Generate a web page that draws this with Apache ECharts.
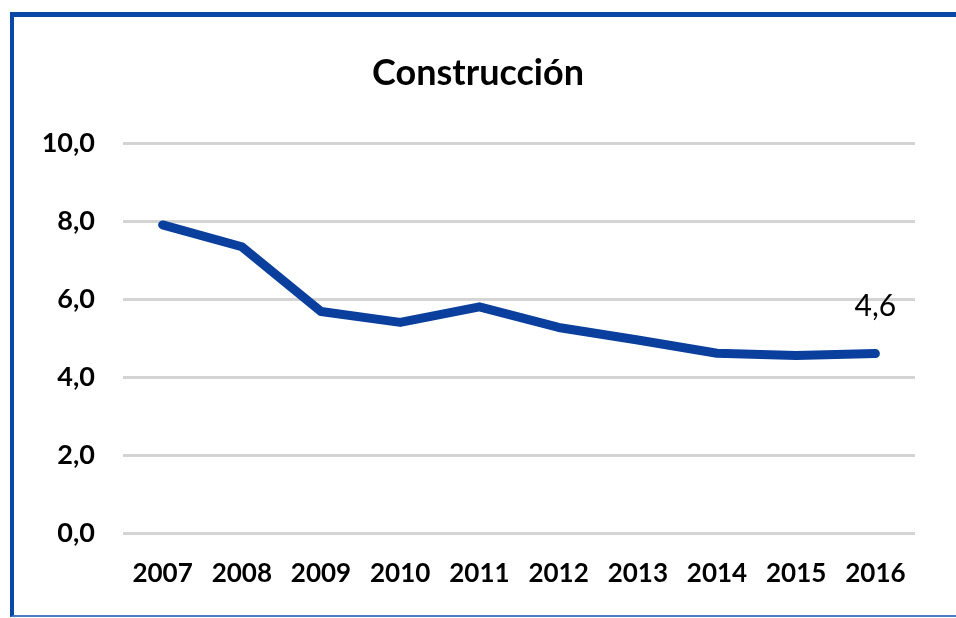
<!DOCTYPE html>
<html>
<head>
<meta charset="utf-8">
<script src="https://cdn.jsdelivr.net/npm/echarts@6/dist/echarts.min.js"></script>
<style>
  html, body { margin: 0; padding: 0; background: #fff; overflow: hidden; }
  #frame {
    position: absolute; left: 10px; top: 12px; width: 990px; height: 598px;
    border-top: 5px solid #0a47a6; border-left: 4px solid #0a47a6;
    border-bottom: 2px solid #4a7cc8;
  }
  #chart { position: absolute; left: 0; top: 0; width: 956px; height: 618px; }
</style>
</head>
<body>
<div id="frame"></div>
<div id="chart"></div>
<script>
const years = ['2007', '2008', '2009', '2010', '2011', '2012', '2013', '2014', '2015', '2016']
const construccion = [7.9, 7.34, 5.68, 5.4, 5.8, 5.27, 4.95, 4.61, 4.55, 4.6]
const yTicks = [0, 2, 4, 6, 8, 10]

const fmt = v => v.toFixed(1).replace('.', ',')
const font = 'Lato, "Open Sans", sans-serif'

const chart = echarts.init(document.getElementById('chart'))
chart.setOption({
  animation: false,
  title: {
    text: 'Construcción',
    left: 'center',
    top: 50,
    textStyle: { fontFamily: font, fontSize: 36, fontWeight: 'bold', color: '#000' }
  },
  grid: { left: 123, right: 41, top: 143, bottom: 85 },
  xAxis: {
    type: 'category',
    data: years,
    boundaryGap: true,
    axisLine: { show: false },
    axisTick: { show: false },
    axisLabel: { interval: 0, fontFamily: font, fontSize: 26, fontWeight: 'bold', color: '#000', margin: 28 }
  },
  yAxis: {
    type: 'value',
    min: yTicks[0],
    max: yTicks[yTicks.length - 1],
    interval: 2,
    axisLine: { show: false },
    axisTick: { show: false },
    splitLine: { lineStyle: { color: '#d4d4d4', width: 3 } },
    axisLabel: { fontFamily: font, fontSize: 27, fontWeight: 'bold', color: '#000', margin: 28, formatter: fmt }
  },
  series: [{
    type: 'line',
    data: construccion.map((v, i) => i === construccion.length - 1
      ? { value: v, label: { show: true } }
      : v),
    showSymbol: true,
    symbol: 'circle',
    symbolSize: 0,
    itemStyle: { color: '#0a3f9e' },
    lineStyle: { color: '#0a3f9e', width: 9, cap: 'round', join: 'round' },
    label: {
      show: false,
      position: 'top',
      distance: 32,
      formatter: p => fmt(p.value),
      fontFamily: font, fontSize: 30, color: '#000'
    }
  }]
})
</script>
</body>
</html>
